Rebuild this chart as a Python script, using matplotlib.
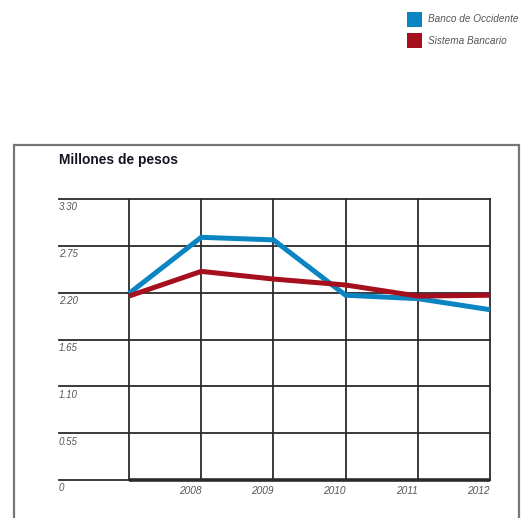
import matplotlib
matplotlib.use('Agg')
import matplotlib.pyplot as plt
from matplotlib.patches import Rectangle

# Resultados en millones de pesos
years = [2007, 2008, 2009, 2010, 2011, 2012]
year_labels = ['', '2008', '2009', '2010', '2011', '2012']
banco_occidente = [2.19, 2.85, 2.82, 2.17, 2.13, 2.00]
sistema_bancario = [2.16, 2.45, 2.36, 2.29, 2.16, 2.17]
y_ticks = [0, 0.55, 1.10, 1.65, 2.20, 2.75, 3.30]
y_labels = ['0', '0.55', '1.10', '1.65', '2.20', '2.75', '3.30']

BLUE = '#0a85c2'
RED = '#a50f1e'
GRID = '#2b2b2b'
LABEL = '#555555'

W, H = 521, 518
fig = plt.figure(figsize=(W / 100, H / 100), dpi=100)


def fx(px):
    return px / W


def fy(py):
    return 1 - py / H


# outer frame around the chart
fig.patches.append(Rectangle((fx(14), fy(530)), fx(519) - fx(14), fy(145) - fy(530),
                             transform=fig.transFigure, fill=False,
                             edgecolor='#777777', linewidth=1.6))

ax = fig.add_axes([fx(129), fy(480), fx(490) - fx(129), fy(199) - fy(480)])
ax.set_xlim(years[0], years[-1])
ax.set_ylim(0, 3.30)
for s in ax.spines.values():
    s.set_visible(False)
ax.set_xticks([])
ax.set_yticks([])

# vertical grid
for x in years:
    ax.axvline(x, color=GRID, linewidth=1.3, zorder=1, clip_on=False)

# horizontal grid, extended left under the labels
ext = -(129 - 59) / (490 - 129)
ytr = ax.get_yaxis_transform()
for v, lab in zip(y_ticks, y_labels):
    ax.plot([ext, 1], [v, v], transform=ytr, color=GRID, linewidth=1.3,
            clip_on=False, zorder=1)
    ax.text(ext, v - 0.04, lab, transform=ytr, ha='left', va='top',
            fontsize=7, style='italic', color=LABEL, family='Liberation Sans')

# heavier base line
ax.plot([0, 1], [0, 0], transform=ytr, color=GRID, linewidth=2.6,
        clip_on=False, solid_capstyle='butt', zorder=2)

xtr = ax.get_xaxis_transform()
for x, lab in zip(years, year_labels):
    ax.text(x, -0.022, lab, transform=xtr, ha='right', va='top',
            fontsize=7.3, style='italic', color=LABEL, family='Liberation Sans')

ax.plot(years, banco_occidente, color=BLUE, linewidth=3.6, zorder=3,
        solid_capstyle='butt', solid_joinstyle='miter', clip_on=False)
ax.plot(years, sistema_bancario, color=RED, linewidth=3.6, zorder=4,
        solid_capstyle='butt', solid_joinstyle='miter', clip_on=False)

fig.text(fx(59), fy(160), 'Millones de pesos', ha='left', va='center',
         fontsize=9.9, fontweight='bold', color='#141420', family='Liberation Sans')

# legend
for (top, color, name) in [(12, BLUE, 'Banco de Occidente'), (33, RED, 'Sistema Bancario')]:
    fig.patches.append(Rectangle((fx(407), fy(top + 15)), fx(15), 15 / H,
                                 transform=fig.transFigure, facecolor=color,
                                 edgecolor='none'))
    fig.text(fx(428), fy(top + 7.5), name, ha='left', va='center', fontsize=7.2,
             style='italic', color=LABEL, family='Liberation Sans')

fig.savefig('out.png', dpi=100)
